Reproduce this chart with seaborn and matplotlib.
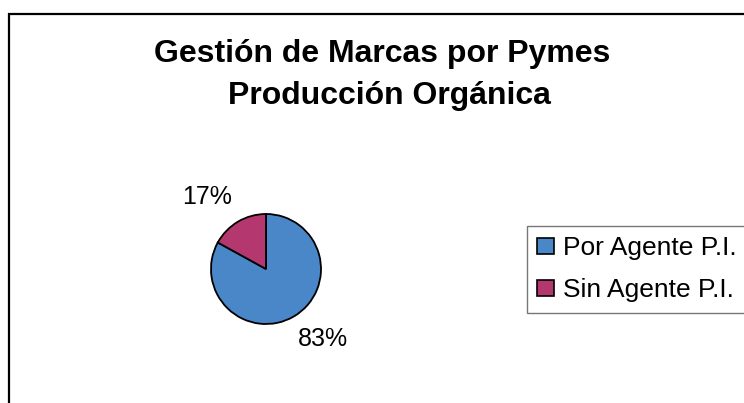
import matplotlib
matplotlib.use("Agg")
import matplotlib.pyplot as plt
import matplotlib.patches as mpatches
import seaborn as sns

# chart data
categories = ["Por Agente P.I.", "Sin Agente P.I."]
shares = [83, 17]
slice_colors = ["#4A87C8", "#B4386F"]
title_lines = ["Gestión de Marcas por Pymes", "Producción Orgánica"]

sns.set_theme(style="white")
plt.rcParams["font.family"] = ["Liberation Sans", "DejaVu Sans"]
plt.rcParams["text.color"] = "black"

fig = plt.figure(figsize=(7.44, 4.03), dpi=100)

# outer chart frame (right and bottom edges run off the image)
fig.patches.append(mpatches.Rectangle((8.5 / 744, -0.05), 1.0, 1 - 13.5 / 403 + 0.05,
                                      transform=fig.transFigure, fill=False,
                                      edgecolor="black", linewidth=1.6))

# two title lines, baselines at 62 px and 104 px from the top
for line, xc, yb in zip(title_lines, [382, 389], [62, 104]):
    fig.text(xc / 744, 1 - yb / 403, line, ha="center", va="baseline",
             fontsize=23, fontweight="bold", color="black")

# pie: centre (266, 269) px, radius 55 px
ax = fig.add_axes([(266 - 55) / 744, (403 - 269 - 55) / 403, 110 / 744, 110 / 403])
wedges, texts, autotexts = ax.pie(shares, colors=slice_colors, startangle=90, counterclock=False,
                                  autopct="%1.0f%%", pctdistance=1.6,
                                  wedgeprops=dict(edgecolor="black", linewidth=1.3),
                                  textprops=dict(fontsize=18, color="black"))
ax.set_xlim(-1, 1)
ax.set_ylim(-1, 1)
ax.set_aspect("equal")
ax.axis("off")

# nudge the outside-end labels to where the original has them
label_offsets = [(1.04, -1.27), (-1.07, 1.30)]
for t, pos in zip(autotexts, label_offsets):
    t.set_position(pos)
    t.set_ha("center")
    t.set_va("center")

handles = [mpatches.Patch(facecolor=c, edgecolor="black", linewidth=1.2) for c in slice_colors]
leg = fig.legend(handles, categories, loc="upper left",
                 bbox_to_anchor=(527 / 744, 1 - 226 / 403), fontsize=19,
                 frameon=True, fancybox=False, borderpad=0.38, labelspacing=0.7,
                 handlelength=0.63, handleheight=0.55, handletextpad=0.34, borderaxespad=0,
                 labelcolor="black")
leg.get_frame().set_edgecolor("#555555")
leg.get_frame().set_linewidth(1.0)

fig.savefig("out.png", dpi=100)
